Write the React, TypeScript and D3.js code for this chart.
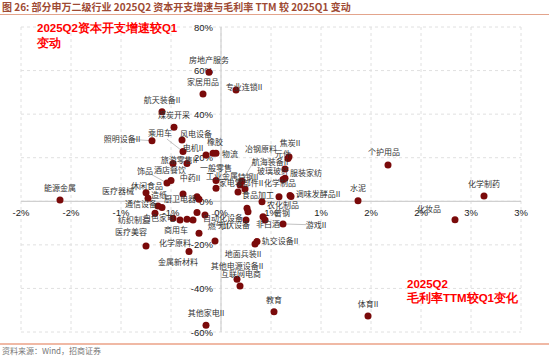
import React from "react";
import * as d3 from "d3";

const W = 550;
const H = 358;

// industry names; x = 毛利率TTM较Q1变化 (%), y = 资本开支增速较Q1变动 (%)
const industries = [
  "房地产服务", "家居用品", "专业连锁II", "航天装备II", "煤炭开采", "照明设备II",
  "风电设备", "乘用车", "电机II", "橡胶", "物流", "文娱用品", "旅游零售II",
  "酒店餐饮", "饰品", "一般零售", "工业金属", "中药II", "医疗器械", "休闲食品",
  "造纸", "通信设备", "纺织制造", "白色家电", "小家电", "商用车", "黑色家电",
  "厨卫电器", "光学光电子", "电池", "自动化设备", "燃气II", "医疗美容", "化学原料",
  "金属新材料", "轨交设备II", "地面兵装II", "其他电源设备II", "互联网电商", "教育",
  "其他家电II", "体育II", "化妆品", "个护用品", "水泥", "化学制药", "能源金属",
  "焦炭II", "元件", "航海装备II", "玻璃玻纤", "服装家纺", "化学制品", "调味发酵品II",
  "农化制品", "食品加工", "普钢", "非白酒", "游戏II", "光伏设备", "电网设备",
  "通用设备", "特钢II", "冶钢原料", "家电零部件II", "专用设备",
];
const marginChange = [
  -0.12, -0.18, 0.15, -0.59, -0.47, -0.69,
  -0.39, -0.38, -0.34, -0.08, -0.05, -0.15, -0.48,
  -0.50, -0.54, -0.05, -0.05, -0.38, -0.73, -0.75,
  -0.63, -0.59, -0.66, -0.48, -0.41, -0.34, -0.28,
  -0.24, -0.22, -0.24, -0.16, -0.22, -0.75, -0.06,
  -0.32, 0.36, 0.34, 0.16, 0.19, 0.53,
  -0.15, 1.47, 2.34, 1.67, 1.37, 2.63, -1.61,
  0.68, 0.67, 0.64, 0.62, 0.64, 0.69, 0.70,
  0.58, 0.41, 0.44, 0.42, 0.62, 0.25, 0.26,
  0.27, 0.24, 0.19, 0.17, 0.21,
];
const capexChange = [
  59.2, 49.3, 51.1, 41.1, 34.0, 27.8,
  28.1, 22.8, 17.4, 22.0, 22.0, 21.3, 17.4,
  9.5, 8.4, 9.5, 6.0, 3.4, 1.4, 3.9,
  -2.2, -2.9, -5.5, -7.8, -8.6, -8.3, -8.6,
  2.1, 0.9, -5.2, -6.3, -14.7, -20.5, -18.2,
  -23.1, -18.5, -19.6, -35.8, -38.9, -50.7,
  -56.9, -52.6, -8.5, 16.6, 0.3, 2.4, 0.6,
  20.5, 19.6, 14.8, 10.0, 10.6, 2.6, 2.2,
  2.1, -0.2, -8.6, -7.1, -10.4, -8.6, -3.2,
  -4.8, 5.6, 7.5, 4.3, 9.2,
];

const xTickValues = [-2, -1.5, -1, -0.5, 0, 0.5, 1, 1.5, 2, 2.5, 3];
const xTickLabels = ["-2%", "-2%", "-1%", "-1%", "0%", "1%", "1%", "2%", "2%", "3%", "3%"];
const yTickValues = [80, 60, 40, 20, 0, -20, -40, -60];
const yTickLabels = ["80%", "60%", "40%", "20%", "0%", "-20%", "-40%", "-60%"];

// label placement (layout only): offset of the label centre from its dot
type Place = { dx: number; dy: number; leader?: boolean; hide?: boolean };
const labelLayout: Record<string, Place> = {
  "专业连锁II": { dx: 8, dy: -3 },
  "照明设备II": { dx: -30, dy: -2, leader: true },
  "风电设备": { dx: 14, dy: -6 },
  "乘用车": { dx: -23, dy: -18, leader: true },
  "电机II": { dx: 6, dy: -15 },
  "橡胶": { dx: 2, dy: -11 },
  "物流": { dx: 14, dy: 1 },
  "文娱用品": { dx: 0, dy: 0, hide: true },
  "旅游零售II": { dx: 6, dy: -3 },
  "酒店餐饮": { dx: -1, dy: -10 },
  "饰品": { dx: -22, dy: -12, leader: true },
  "工业金属": { dx: 6, dy: -12 },
  "中药II": { dx: 7, dy: -16 },
  "医疗器械": { dx: -30, dy: -7 },
  "休闲食品": { dx: 1, dy: -7 },
  "造纸": { dx: 1, dy: -11 },
  "通信设备": { dx: -21, dy: -3 },
  "纺织制造": { dx: -21, dy: 7 },
  "白色家电": { dx: -14, dy: 0 },
  "小家电": { dx: 0, dy: 0, hide: true },
  "商用车": { dx: -11, dy: 11 },
  "黑色家电": { dx: 0, dy: 0, hide: true },
  "厨卫电器": { dx: -17, dy: 2 },
  "光学光电子": { dx: 0, dy: 0, hide: true },
  "电池": { dx: 0, dy: 0, hide: true },
  "自动化设备": { dx: 18, dy: 3 },
  "燃气II": { dx: 19, dy: -7 },
  "医疗美容": { dx: -15, dy: -14 },
  "化学原料": { dx: -40, dy: 2 },
  "金属新材料": { dx: -11, dy: 11 },
  "轨交设备II": { dx: 23, dy: 0 },
  "地面兵装II": { dx: -12, dy: 10 },
  "其他电源设备II": { dx: 0, dy: -13 },
  "互联网电商": { dx: 1, dy: -12 },
  "化妆品": { dx: -26, dy: -11 },
  "个护用品": { dx: -4, dy: -13 },
  "焦炭II": { dx: 1, dy: -13 },
  "元件": { dx: -5, dy: -4 },
  "航海装备II": { dx: -15, dy: -7 },
  "玻璃玻纤": { dx: -10, dy: -8 },
  "服装家纺": { dx: 21, dy: -5 },
  "化学制品": { dx: -10, dy: -12 },
  "调味发酵品II": { dx: 27, dy: -2 },
  "农化制品": { dx: 4, dy: 8 },
  "食品加工": { dx: -4, dy: -7 },
  "普钢": { dx: 17, dy: -7 },
  "非白酒": { dx: 5, dy: 7 },
  "游戏II": { dx: 33, dy: 1, leader: true },
  "光伏设备": { dx: -12, dy: 5 },
  "电网设备": { dx: 0, dy: 0, hide: true },
  "通用设备": { dx: 0, dy: 0, hide: true },
  "特钢II": { dx: 3, dy: -12 },
  "冶钢原料": { dx: 21, dy: -36, leader: true },
  "家电零部件II": { dx: 3, dy: -9 },
  "专用设备": { dx: 0, dy: 0, hide: true },
};

const FONT_LABEL = "'Noto Sans CJK SC', 'Noto Sans', sans-serif";
const FONT_NUM = "'Liberation Sans', Arial, sans-serif";

export default function App() {
  const x = d3.scaleLinear().domain([-2, 3]).range([21, 521]);
  const y = d3.scaleLinear().domain([-60, 80]).range([332, 27]);

  const points = industries.map((name, i) => ({
    name,
    cx: x(marginChange[i]),
    cy: y(capexChange[i]),
    place: labelLayout[name] || { dx: 0, dy: -12 },
  }));

  return (
    <svg
      width={W}
      height={H}
      viewBox={`0 0 ${W} ${H}`}
      style={{ position: "absolute", left: 0, top: 0, background: "#fff" }}
    >
      {/* title */}
      <text x={2} y={11} fontFamily={FONT_LABEL} fontSize={10} fontWeight="bold" fill="#9e4a33">
        图 26: 部分申万二级行业 2025Q2 资本开支增速与毛利率 TTM 较 2025Q1 变动
      </text>
      <line x1={0} x2={549} y1={14.5} y2={14.5} stroke="#e3a48c" strokeWidth={1} />

      {/* grid */}
      {xTickValues.map((v) => (
        <line key={"gx" + v} x1={x(v)} x2={x(v)} y1={y(80)} y2={y(-60)} stroke="#e0e0e0" strokeDasharray="3,3" />
      ))}
      {yTickValues.map((v) => (
        <line key={"gy" + v} x1={x(-2)} x2={x(3)} y1={y(v)} y2={y(v)} stroke="#e0e0e0" strokeDasharray="3,3" />
      ))}
      {/* axes through zero */}
      <line x1={x(0)} x2={x(0)} y1={y(80)} y2={y(-60)} stroke="#d0d0d0" strokeWidth={1.2} />
      <line x1={x(-2)} x2={x(3)} y1={y(0)} y2={y(0)} stroke="#d0d0d0" strokeWidth={1.2} />

      {/* tick labels */}
      {xTickValues.map((v, i) => (
        <text key={"tx" + v} x={x(v)} y={y(0) + 14.5} textAnchor="middle" fontFamily={FONT_NUM} fontSize={9.5} fill="#222">
          {xTickLabels[i]}
        </text>
      ))}
      {yTickValues.map((v, i) => (
        <text key={"ty" + v} x={x(0) - 8} y={y(v) + 3.5} textAnchor="end" fontFamily={FONT_NUM} fontSize={9.5} fill="#222">
          {yTickLabels[i]}
        </text>
      ))}

      {/* leader lines */}
      {points.map((p) => {
        if (!p.place.leader || p.place.hide) return null;
        return (
          <line
            key={"ld" + p.name}
            x1={p.cx}
            y1={p.cy}
            x2={p.cx + p.place.dx * 0.7}
            y2={p.cy + p.place.dy * 0.7}
            stroke="#999"
            strokeWidth={0.6}
          />
        );
      })}

      {/* dots */}
      {points.map((p) => (
        <circle key={"c" + p.name} cx={p.cx} cy={p.cy} r={3.5} fill="#7a0a0a" />
      ))}

      {/* labels */}
      {points.map((p) =>
        p.place.hide ? null : (
          <text
            key={"t" + p.name}
            x={p.cx + p.place.dx}
            y={p.cy + p.place.dy}
            dy="0.35em"
            textAnchor="middle"
            fontFamily={FONT_LABEL}
            fontSize={8}
            fill="#333"
          >
            {p.name}
          </text>
        )
      )}

      {/* annotations */}
      <text x={37} y={32} fontFamily={FONT_NUM} fontSize={11.5} fontWeight="bold" fill="#ff0000">
        2025Q2资本开支增速较Q1
      </text>
      <text x={37} y={47} fontFamily={FONT_NUM} fontSize={11.5} fontWeight="bold" fill="#ff0000">
        变动
      </text>
      <text x={407} y={288} fontFamily={FONT_NUM} fontSize={11.5} fontWeight="bold" fill="#ff0000">
        2025Q2
      </text>
      <text x={407} y={302} fontFamily={FONT_NUM} fontSize={11.5} fontWeight="bold" fill="#ff0000">
        毛利率TTM较Q1变化
      </text>

      {/* footer */}
      <line x1={0} x2={549} y1={344} y2={344} stroke="#e2754d" strokeWidth={1.2} />
      <text x={2} y={354} fontFamily={FONT_LABEL} fontSize={8} fill="#777">
        资料来源：Wind，招商证券
      </text>
    </svg>
  );
}
